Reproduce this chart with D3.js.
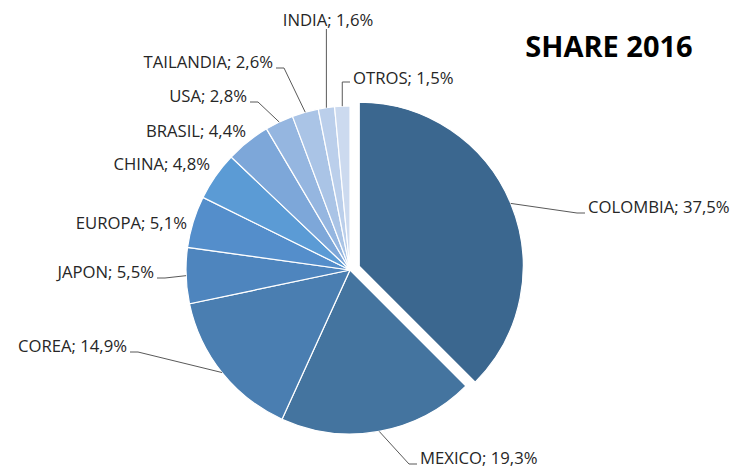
<!DOCTYPE html>
<html>
<head>
<meta charset="utf-8">
<script src="https://cdn.jsdelivr.net/npm/d3@7"></script>
<style>
  body { margin: 0; background: #fff; }
  svg text { font-family: 'Open Sans', 'Noto Sans', sans-serif; fill: #262626; }
</style>
</head>
<body>
<svg width="736" height="468"></svg>
<script>
// data (clockwise from 12 o'clock)
const countries = ['COLOMBIA', 'MEXICO', 'COREA', 'JAPON', 'EUROPA', 'CHINA',
  'BRASIL', 'USA', 'TAILANDIA', 'INDIA', 'OTROS'];
const shares = [37.5, 19.3, 14.9, 5.5, 5.1, 4.8, 4.4, 2.8, 2.6, 1.6, 1.5];
const shareLabels = ['37,5%', '19,3%', '14,9%', '5,5%', '5,1%', '4,8%',
  '4,4%', '2,8%', '2,6%', '1,6%', '1,5%'];
const title = 'SHARE 2016';

const colors = ['#3b678f', '#44749f', '#4a7eb1', '#4e85be', '#548ecb', '#5b9bd5',
  '#7da7d9', '#95b6e0', '#aac4e6', '#bbcfeb', '#ccdaef'];

// where each label's text sits (baseline), relative to the pie centre
// [x, y, anchor, has leader]
const labelLayout = {
  COLOMBIA: [238, -57, 'start', true],
  MEXICO: [70, 194, 'start', true],
  COREA: [-223, 82, 'end', true],
  JAPON: [-196, 8, 'end', true],
  EUROPA: [-163, -41, 'end', false],
  CHINA: [-140, -100, 'end', false],
  BRASIL: [-104, -133, 'end', false],
  USA: [-103, -168, 'end', true],
  TAILANDIA: [-77, -202, 'end', true],
  INDIA: [-22, -244, 'middle', true],
  OTROS: [3, -186, 'start', true]
};

const svg = d3.select('svg');
const cx = 350, cy = 270, radius = 164, explode = 10;

const pie = d3.pie().sort(null).value(d => d.value);
const arcs = pie(countries.map((c, i) => ({ name: c, value: shares[i], label: shareLabels[i], color: colors[i] })));

const arc = d3.arc().innerRadius(0).outerRadius(radius);

const g = svg.append('g').attr('transform', `translate(${cx},${cy})`);

function offset(d) {
  if (d.index !== 0) return [0, 0];
  const a = (d.startAngle + d.endAngle) / 2;
  return [Math.sin(a) * explode, -Math.cos(a) * explode];
}

g.selectAll('path')
  .data(arcs)
  .join('path')
  .attr('d', arc)
  .attr('transform', d => `translate(${offset(d)})`)
  .attr('fill', d => d.data.color)
  .attr('stroke', '#fff')
  .attr('stroke-width', 1.2);

// leader lines + labels
arcs.forEach(function (d) {
  const lay = labelLayout[d.data.name];
  const a = (d.startAngle + d.endAngle) / 2;
  const o = offset(d);
  const ax = Math.sin(a) * radius + o[0];
  const ay = -Math.cos(a) * radius + o[1];
  const tx = lay[0], ty = lay[1];

  if (lay[3]) {
    let pts;
    if (lay[2] === 'middle') {
      pts = [[ax, ay], [ax, ty + 3]];
    } else if (d.data.name === 'OTROS') {
      pts = [[ax, ay], [ax, ty - 2], [tx - 3, ty - 2]];
    } else {
      const dir = lay[2] === 'end' ? 1 : -1;
      pts = [[ax, ay], [tx + dir * 11, ty], [tx + dir * 3, ty]];
    }
    g.append('path')
      .attr('d', d3.line()(pts))
      .attr('fill', 'none')
      .attr('stroke', '#595959')
      .attr('stroke-width', 1);
  }

  g.append('text')
    .attr('x', tx)
    .attr('y', ty)
    .attr('text-anchor', lay[2])
    .attr('font-size', 16.7)
    .text(d.data.name + '; ' + d.data.label);
});

svg.append('text')
  .attr('x', 609)
  .attr('y', 57)
  .attr('text-anchor', 'middle')
  .attr('font-size', 29)
  .attr('font-weight', 'bold')
  .style('fill', '#000')
  .text(title);
</script>
</body>
</html>
